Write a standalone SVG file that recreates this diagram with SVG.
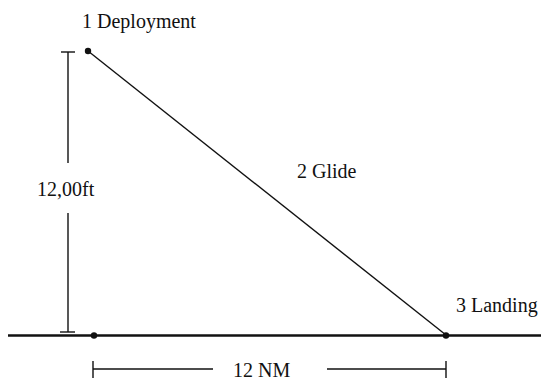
<svg xmlns="http://www.w3.org/2000/svg" width="541" height="381" viewBox="0 0 541 381">
<style>
text{font-family:"Liberation Serif","Times New Roman",serif;font-size:20px;fill:#111}
.thin{stroke:#111;stroke-width:1.4;fill:none}
.ground{stroke:#111;stroke-width:2.6;fill:none}
.dot{fill:#111}
</style>
<rect width="541" height="381" fill="#fff"/>
<g id="connectors">
<line class="ground" x1="8" y1="335.5" x2="541" y2="335.5"/>
<line class="thin" x1="88" y1="51" x2="446" y2="335"/>
<line class="thin" x1="68" y1="52" x2="68" y2="332"/>
<line class="thin" x1="61" y1="52" x2="75" y2="52"/>
<line class="thin" x1="60" y1="332" x2="75" y2="332"/>
<line class="thin" x1="93" y1="369" x2="213" y2="369"/>
<line class="thin" x1="327" y1="369" x2="446" y2="369"/>
<line class="thin" x1="93" y1="361" x2="93" y2="378"/>
<line class="thin" x1="446" y1="361" x2="446" y2="378"/>
</g>
<g id="deployment">
<circle class="dot" cx="88" cy="51" r="3.2"/>
<text x="82" y="28">1 Deployment</text>
</g>
<g id="glide">
<text x="297" y="178">2 Glide</text>
</g>
<g id="landing">
<circle class="dot" cx="446" cy="335.5" r="3.2"/>
<text x="456" y="312">3 Landing</text>
</g>
<g id="start">
<circle class="dot" cx="94" cy="335.5" r="3.2"/>
</g>
<g id="height-label">
<rect x="23" y="163" width="90" height="50" fill="#fff"/>
<text x="37" y="196">12,00ft</text>
</g>
<g id="distance-label">
<text x="233" y="377">12 NM</text>
</g>
</svg>
